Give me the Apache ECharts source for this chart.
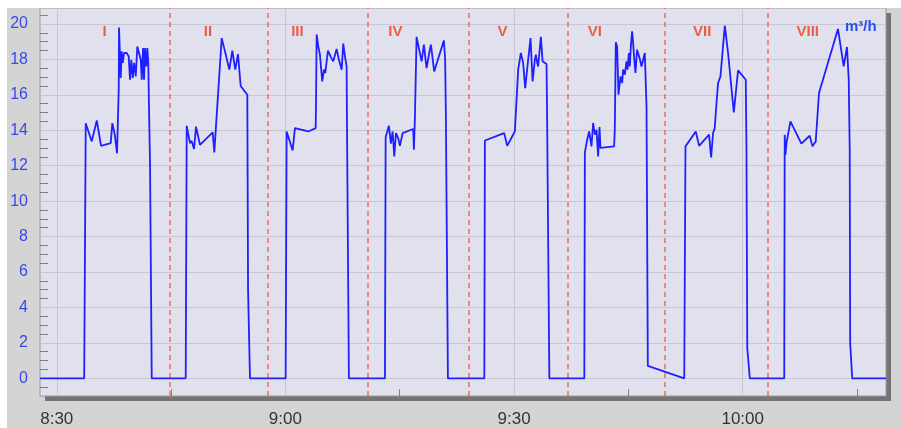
<!DOCTYPE html>
<html><head><meta charset="utf-8">
<script src="https://cdn.jsdelivr.net/npm/echarts@6/dist/echarts.min.js"></script>
<style>
html,body{margin:0;padding:0;background:#ffffff;width:901px;height:428px;overflow:hidden;}
#panel{position:absolute;left:7px;top:8px;width:894px;height:420px;background:#d4d4d4;}
#shadow{position:absolute;left:45px;top:13px;width:846px;height:388px;background:#747474;}
#c{position:absolute;left:7px;top:8px;width:894px;height:420px;}
</style></head><body><div id="panel"></div><div id="shadow"></div><div id="c"></div>
<script>
// time in minutes after 8:00, flow in m3/h
const xMin = 27.8, xMax = 138.8;
const yMin = -1, yMax = 20.9;
const xLabelValues = [30, 60, 90, 120];
const xLabelTexts = ['8:30', '9:00', '9:30', '10:00'];
const xMinorTicks = [45, 75, 105, 135];
const yLabelValues = [0, 2, 4, 6, 8, 10, 12, 14, 16, 18, 20];
const yTickValues = [-0.5,0,0.5,1,1.5,2,2.5,3,3.5,4,4.5,5,5.5,6,6.5,7,7.5,8,8.5,9,9.5,10,10.5,11,11.5,12,12.5,13,13.5,14,14.5,15,15.5,16,16.5,17,17.5,18,18.5,19,19.5,20,20.5];
const dividers = [44.77, 57.65, 70.83, 84.03, 97.06, 109.83, 123.25];
const phaseNames = ['I','II','III','IV','V','VI','VII','VIII'];
const phaseX = [36.27, 49.84, 61.58, 74.43, 88.47, 100.6, 114.69, 128.53];
const phaseY = 19.58;
const unitText = 'm³/h';

const segStart = [[27.8, 0]];
const segI = [[33.6,0],[33.8,14.4],[34.59,13.37],[35.25,14.55],[35.81,13.12],[37.08,13.27],[37.29,14.4],[37.61,13.75],[37.91,12.7],[38.13,16.3],[38.17,19.8],[38.39,16.95],[38.52,18.45],[38.66,17.8],[38.83,18.36],[39.18,18.36],[39.44,18.17],[39.61,16.85],[39.78,17.98],[39.97,16.95],[40.14,17.8],[40.36,17.04],[40.57,18.73],[40.79,18.64],[41.02,17.98],[41.15,16.85],[41.32,18.64],[41.45,16.85],[41.58,18.64],[41.75,17.6],[41.88,18.64],[42.01,17.8],[42.10,15.35],[42.24,12.0],[42.46,0]];
const segII = [[46.92,0],[47.05,14.25],[47.48,13.27],[47.70,13.4],[48.01,12.94],[48.27,14.2],[48.79,13.18],[50.46,13.88],[50.67,12.75],[51.64,19.2],[52.07,18.45],[52.64,17.42],[53.03,18.5],[53.42,17.42],[53.78,18.3],[54.13,16.5],[55.00,16.0],[55.1,5],[55.35,0]];
const segIII = [[60.03,0],[60.16,13.93],[60.95,12.86],[61.25,14.12],[63.0,13.93],[63.97,14.12],[64.01,15.35],[64.10,19.4],[64.31,18.73],[64.53,18.27],[64.83,16.76],[65.06,17.42],[65.23,17.23],[65.58,18.5],[65.97,18.13],[66.28,17.89],[66.72,18.59],[67.02,17.98],[67.38,17.42],[67.59,18.89],[67.81,18.17],[68.03,17.6],[68.07,14.88],[68.33,0]];
const segIV = [[73.06,0],[73.15,13.6],[73.58,14.25],[73.84,13.24],[74.07,13.93],[74.28,12.52],[74.50,13.84],[74.80,13.56],[75.02,13.12],[75.38,13.84],[76.77,14.07],[76.86,12.9],[76.99,14.69],[77.21,19.27],[77.55,18.55],[77.87,17.89],[78.17,18.83],[78.52,17.51],[78.87,18.36],[79.09,18.83],[79.52,17.32],[80.79,19.07],[80.96,17.98],[81.06,14.59],[81.32,0]];
const segV = [[86.10,0],[86.17,13.42],[88.70,13.84],[89.10,13.12],[90.10,13.93],[90.33,15.72],[90.54,17.42],[90.89,18.36],[91.19,17.8],[91.46,16.38],[91.85,17.98],[92.16,19.2],[92.43,16.76],[92.73,17.98],[92.86,18.27],[93.03,17.83],[93.16,17.6],[93.38,18.64],[93.52,19.27],[93.74,17.89],[94.26,17.74],[94.34,14.59],[94.63,0]];
const segVI = [[99.22,0],[99.29,12.75],[99.59,13.46],[99.85,13.93],[100.16,13.09],[100.37,14.41],[100.60,13.75],[100.82,14.03],[101.03,12.52],[101.21,14.18],[101.34,13.0],[103.13,13.09],[103.22,14.12],[103.35,18.97],[103.52,18.73],[103.70,16.01],[103.97,17.04],[104.18,16.67],[104.31,17.42],[104.53,17.14],[104.75,17.89],[104.89,17.42],[105.06,18.36],[105.19,17.6],[105.32,18.73],[105.49,19.58],[105.62,18.93],[105.75,18.13],[105.93,17.23],[106.14,18.55],[106.50,18.02],[106.72,17.6],[107.15,18.36],[107.29,18.45],[107.38,15.35],[107.55,0.7],[112.33,0]];
const segVII = [[112.49,13.09],[113.84,13.93],[114.28,13.12],[115.59,13.75],[115.85,12.46],[116.11,13.84],[116.33,14.12],[116.56,15.54],[116.77,16.67],[117.08,17.04],[117.65,19.9],[118.08,18.36],[118.83,15.0],[119.39,17.38],[120.40,16.85],[120.49,13.09],[120.60,1.7],[120.93,0]];
const segVIII = [[125.45,0],[125.51,13.75],[125.61,12.62],[125.74,13.27],[126.26,14.5],[127.70,13.24],[128.79,13.69],[129.15,13.09],[129.58,13.37],[130.01,16.1],[132.50,19.72],[133.25,17.6],[133.68,18.7],[133.91,16.85],[134.04,12.9],[134.1,2],[134.37,0]];
const segEnd = [[138.8, 0]];

const flowData = [].concat(segStart, segI, segII, segIII, segIV, segV, segVI, segVII, segVIII, segEnd);

const chart = echarts.init(document.getElementById('c'), null, {renderer: 'canvas'});
const font = 'Liberation Sans, Arial, sans-serif';
const gridLineStyle = {color: '#c6c7d2', width: 1, type: 'solid'};

chart.setOption({
  animation: false,
  backgroundColor: 'transparent',
  grid: {
    left: 33, top: 0, right: 15, bottom: 32,
    show: true, backgroundColor: '#e0e1ec',
    borderColor: '#9c9c9c', borderWidth: 1
  },
  xAxis: [{
    type: 'value', min: xMin, max: xMax,
    axisLine: {show: false},
    splitLine: {show: false},
    axisTick: {show: true, inside: false, length: 9, customValues: xLabelValues, lineStyle: {color: '#707070'}},
    axisLabel: {
      customValues: xLabelValues, margin: 15,
      color: '#333', fontSize: 17, fontFamily: font,
      formatter: v => xLabelTexts[xLabelValues.indexOf(Math.round(v))]
    }
  }, {
    type: 'value', min: xMin, max: xMax, position: 'bottom',
    axisLine: {show: false}, splitLine: {show: false},
    axisTick: {show: true, inside: true, length: 7, customValues: xMinorTicks, lineStyle: {color: '#808080'}},
    axisLabel: {show: false}
  }],
  yAxis: [{
    type: 'value', min: yMin, max: yMax,
    axisLine: {show: false}, splitLine: {show: false},
    axisTick: {show: true, inside: true, length: 8, customValues: yTickValues, lineStyle: {color: '#808080'}},
    axisLabel: {
      customValues: yLabelValues, margin: 12,
      color: '#3a48ee', fontSize: 16, fontFamily: font
    }
  }],
  graphic: {
    elements: [{
      type: 'text', x: 838, y: 11, z: 10,
      style: {text: unitText, fill: '#2a4ef0', font: 'bold 15px ' + font}
    }]
  },
  series: [{
    type: 'line', name: 'grid', data: [], silent: true,
    markLine: {
      silent: true, symbol: 'none', label: {show: false},
      lineStyle: gridLineStyle,
      data: yLabelValues.map(v => ({yAxis: v})).concat(xLabelValues.map(v => ({xAxis: v})))
    }
  }, {
    type: 'line', name: 'dividers', data: [], silent: true,
    markLine: {
      silent: true, symbol: 'none', label: {show: false},
      lineStyle: {color: '#f26a58', width: 1.5, type: [5, 4]},
      data: dividers.map(v => ({xAxis: v}))
    }
  }, {
    type: 'line', name: 'flow', data: flowData,
    showSymbol: false, symbol: 'none', clip: true,
    lineStyle: {color: '#1f1fff', width: 1.8},
    z: 5
  }, {
    type: 'scatter', name: 'phases', symbolSize: 0, silent: true,
    data: phaseX.map((x, i) => [x, phaseY, phaseNames[i]]),
    label: {
      show: true, position: 'inside', formatter: p => p.data[2],
      color: '#ef3b1e', fontSize: 15, fontWeight: 'bold', fontFamily: font
    }
  }]
});
</script></body></html>
